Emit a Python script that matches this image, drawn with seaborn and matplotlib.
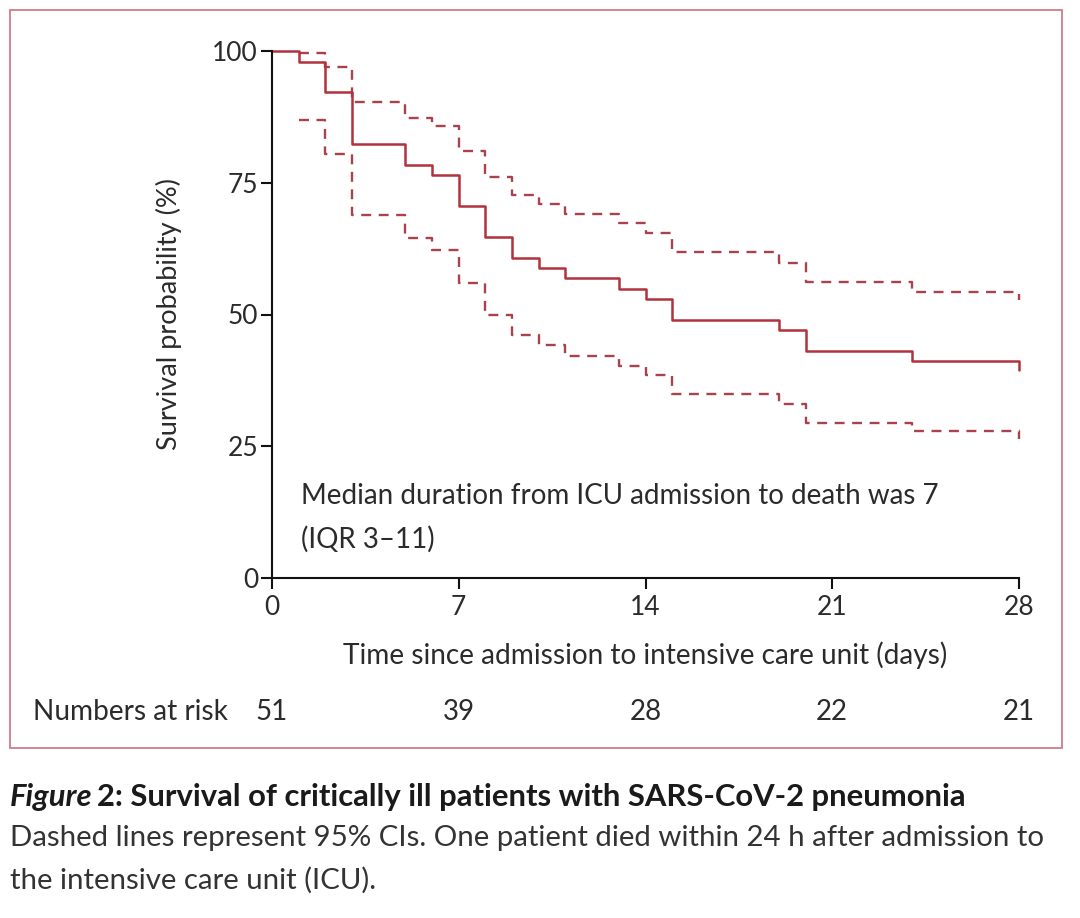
import matplotlib
matplotlib.use("Agg")
import matplotlib.pyplot as plt
import matplotlib.patches as patches
import matplotlib.transforms as mtransforms
import seaborn as sns
import pandas as pd
import numpy as np


sns.set_theme(style="white")
plt.rcParams['font.family'] = ['Lato', 'DejaVu Sans']

# Kaplan-Meier estimate (%), step changes at these days
km_days = [0, 1, 2, 3, 5, 6, 7, 8, 9, 10, 11, 13, 14, 15, 19, 20, 24, 28, 28]
km_surv = [100, 98.0, 92.2, 82.4, 78.4, 76.5, 70.6, 64.7, 60.8, 58.8, 56.9,
           54.9, 52.9, 49.0, 47.1, 43.1, 41.2, 41.2, 39.5]

# 95% CI bounds
ci_days = [1, 2, 3, 5, 6, 7, 8, 9, 10, 11, 13, 14, 15, 19, 20, 24, 28, 28]
ci_upper = [99.6, 96.9, 90.4, 87.3, 85.8, 81.1, 76.0, 72.7, 70.9, 69.1, 67.4,
            65.5, 61.8, 59.8, 56.1, 54.2, 54.2, 52.8]
ci_lower = [86.9, 80.5, 68.9, 64.5, 62.2, 56.0, 49.9, 46.1, 44.2, 42.1, 40.2,
            38.5, 34.9, 33.0, 29.5, 27.8, 27.8, 26.3]

x_ticks = [0, 7, 14, 21, 28]
y_ticks = [0, 25, 50, 75, 100]
at_risk = [51, 39, 28, 22, 21]

RED = '#b1313d'
DASH = '#a9424d'
TXT = '#2b2b2b'

km_df = pd.DataFrame({'day': km_days, 'surv': km_surv})
ci_df = pd.DataFrame({'day': ci_days, 'upper': ci_upper, 'lower': ci_lower})

fig = plt.figure(figsize=(10.8, 9.18), dpi=100)
ax = fig.add_axes([272 / 1080, 1 - 578 / 918, 747 / 1080, 527 / 918])

for col in ['upper', 'lower']:
    sns.lineplot(data=ci_df, x='day', y=col, ax=ax, color=DASH, lw=1.7,
                 drawstyle='steps-post', sort=False, estimator=None,
                 dashes=False, linestyle=(0, (4.2, 3.2)), clip_on=False)
sns.lineplot(data=km_df, x='day', y='surv', ax=ax, color=RED, lw=1.8,
             drawstyle='steps-post', sort=False, estimator=None, clip_on=False)

ax.set_xlim(0, 28)
ax.set_ylim(0, 100)
ax.set_xticks(x_ticks)
ax.set_yticks(y_ticks)
sns.despine(ax=ax)
for side in ['left', 'bottom']:
    ax.spines[side].set_color('#111111')
    ax.spines[side].set_linewidth(1.5)
ax.tick_params(axis='both', direction='out', length=8, width=1.5,
               color='#111111', labelsize=19, labelcolor=TXT,
               left=True, bottom=True)
ax.tick_params(axis='x', pad=4)
ax.tick_params(axis='y', pad=2)

ax.set_xlabel('Time since admission to intensive care unit (days)',
              fontsize=20.2, color=TXT, labelpad=16)
ax.set_ylabel('Survival probability (%)', fontsize=19.5, color=TXT, labelpad=22)

ax.text(1.1, 15.5, 'Median duration from ICU admission to death was 7',
        fontsize=20, color=TXT, va='center', ha='left')
ax.text(1.1, 7.4, '(IQR 3\u201311)', fontsize=20, color=TXT, va='center', ha='left')

# numbers at risk row
risk_tr = mtransforms.blended_transform_factory(ax.transData, fig.transFigure)
fig.text(228 / 1080, 1 - 712 / 918, 'Numbers at risk', fontsize=20.2, color=TXT,
         ha='right', va='center')
for d, n in zip(x_ticks, at_risk):
    ax.text(d, 1 - 712 / 918, str(n), transform=risk_tr, fontsize=20,
            color=TXT, ha='center', va='center')

# frame around the figure panel
fig.patches.append(patches.Rectangle((10 / 1080, 1 - 748 / 918), 1052 / 1080, 738 / 918,
                                     transform=fig.transFigure, fill=False,
                                     edgecolor='#cf7c89', lw=1.3))

# caption
fig.canvas.draw()
renderer = fig.canvas.get_renderer()
t1 = fig.text(10 / 1080, 1 - 797 / 918, 'Figure', fontsize=22.3, fontweight='bold',
              fontstyle='italic', color='#1a1a1a', ha='left', va='center')
bb = t1.get_window_extent(renderer)
fig.text(bb.x1 / 1080 + 0.004, 1 - 797 / 918,
         '2: Survival of critically ill patients with SARS-CoV-2 pneumonia',
         fontsize=22.3, fontweight='bold', color='#1a1a1a', ha='left', va='center')
fig.text(10 / 1080, 1 - 838 / 918,
         'Dashed lines represent 95% CIs. One patient died within 24 h after admission to',
         fontsize=21.2, color='#333333', ha='left', va='center')
fig.text(10 / 1080, 1 - 880 / 918, 'the intensive care unit (ICU).',
         fontsize=21.2, color='#333333', ha='left', va='center')

fig.savefig('out.png', dpi=100)
